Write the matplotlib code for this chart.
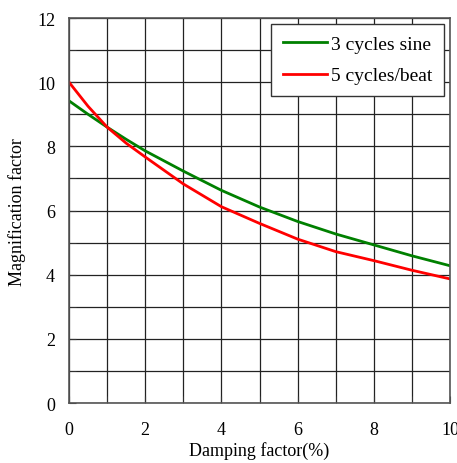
import numpy as np
import matplotlib
matplotlib.use("Agg")
from matplotlib import pyplot as plt

# values
damping = [0, 0.5, 1, 1.5, 2, 3, 4, 5, 6, 7, 8, 9, 10]
sine_3 = [9.42, 9.0, 8.6, 8.22, 7.86, 7.23, 6.63, 6.11, 5.66, 5.27, 4.93, 4.59, 4.28]
beat_5 = [10.0, 9.25, 8.6, 8.1, 7.67, 6.83, 6.12, 5.6, 5.11, 4.72, 4.44, 4.14, 3.87]

plt.rcParams['font.family'] = ['Liberation Serif', 'DejaVu Serif']

fig = plt.figure(figsize=(4.57, 4.64), dpi=100)
ax = fig.add_axes([0.151, 0.129, 0.834, 0.830])

ax.plot(damping, sine_3, color='green', lw=2, label='3 cycles sine')
ax.plot(damping, beat_5, color='red', lw=2, label='5 cycles/beat')

ax.set_xlim(0, 10)
ax.set_ylim(0, 12)
ax.set_xticks(np.arange(0, 11, 2))
ax.set_yticks(np.arange(0, 13, 2))
ax.set_xticks(np.arange(0, 11, 1), minor=True)
ax.set_yticks(np.arange(0, 13, 1), minor=True)
ax.grid(True, which='both', color='#222222', lw=0.9)
ax.tick_params(which='both', direction='in', length=5, labelsize=13, color='#333333')
ax.tick_params(axis='x', pad=13)
ax.tick_params(axis='y', pad=10)
for s in ax.spines.values():
    s.set_color('#555555')
    s.set_linewidth(1.2)

ax.set_xlabel('Damping factor(%)', fontsize=13, labelpad=2)
ax.set_ylabel('Magnification factor', fontsize=13, labelpad=8)

leg = ax.legend(loc='upper right', fontsize=14, fancybox=False, framealpha=1,
                edgecolor='#333333', handlelength=2.3, borderpad=0.6,
                labelspacing=0.7, handletextpad=0.2, borderaxespad=0.3)
leg.get_frame().set_linewidth(1.0)

fig.savefig('out.png', dpi=100)
